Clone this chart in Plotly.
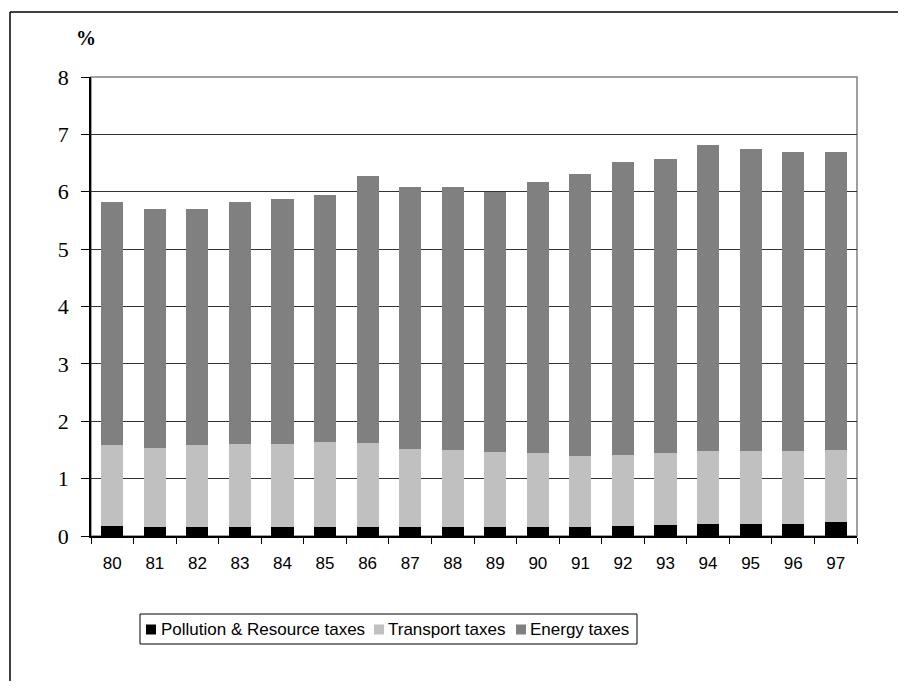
import plotly.graph_objects as go

years = ["80", "81", "82", "83", "84", "85", "86", "87", "88", "89",
         "90", "91", "92", "93", "94", "95", "96", "97"]
pollution = [0.17, 0.16, 0.16, 0.16, 0.16, 0.16, 0.16, 0.16, 0.16, 0.16,
             0.16, 0.16, 0.17, 0.19, 0.21, 0.21, 0.21, 0.24]
transport = [1.42, 1.38, 1.43, 1.45, 1.45, 1.48, 1.46, 1.36, 1.34, 1.31,
             1.29, 1.24, 1.24, 1.26, 1.27, 1.27, 1.27, 1.26]
energy = [4.23, 4.16, 4.11, 4.21, 4.26, 4.30, 4.65, 4.56, 4.58, 4.53,
          4.72, 4.91, 5.11, 5.12, 5.33, 5.26, 5.21, 5.19]
series_names = ["Pollution & Resource taxes", "Transport taxes", "Energy taxes"]
series_colors = ["#000000", "#C0C0C0", "#808080"]

fig = go.Figure()
for vals, nm, col in zip([pollution, transport, energy], series_names, series_colors):
    fig.add_trace(go.Bar(x=years, y=vals, name=nm, showlegend=False,
                         marker=dict(color=col, line=dict(width=0))))

# figure pixel geometry (page is offset by 8px body margin)
W, H = 890, 673
L, R, T, B = 83, 849, 69, 528
pw, ph = R - L, B - T


def px(x):
    return (x - L) / pw


def py(y):
    return (B - y) / ph


fig.update_layout(
    width=W, height=H,
    barmode="stack", bargap=0.48,
    paper_bgcolor="white", plot_bgcolor="white",
    margin=dict(l=L, r=W - R, t=T, b=H - B, pad=0),
    showlegend=False,
    font=dict(family="Liberation Sans, Arial", color="black"),
)

fig.update_yaxes(range=[0, 8], dtick=1, tick0=0,
                 showgrid=True, gridcolor="#333333", gridwidth=1.2,
                 showline=True, linecolor="black", linewidth=1.5,
                 ticks="outside", ticklen=8, tickcolor="black", tickwidth=1.2,
                 ticklabelstandoff=8,
                 tickfont=dict(family="Liberation Serif, Times New Roman", size=22, color="black"),
                 zeroline=False, fixedrange=True)
fig.update_xaxes(type="category", showgrid=False,
                 showline=True, linecolor="black", linewidth=1.5,
                 ticks="outside", tickson="boundaries", ticklen=6,
                 tickcolor="black", tickwidth=1.2,
                 ticklabelstandoff=11,
                 tickfont=dict(family="Liberation Sans, Arial", size=17, color="black"),
                 fixedrange=True)

# gray plot-area border (top/right)
fig.add_shape(type="rect", xref="paper", yref="paper", x0=0, x1=1, y0=0, y1=1,
              line=dict(color="#808080", width=1.5), layer="below")
# outer frame (top and left visible)
fig.add_shape(type="line", xref="paper", yref="paper",
              x0=px(2), x1=px(2), y0=py(H), y1=py(4),
              line=dict(color="black", width=1.5))
fig.add_shape(type="line", xref="paper", yref="paper",
              x0=px(2), x1=px(W), y0=py(4), y1=py(4),
              line=dict(color="black", width=1.5))

fig.add_annotation(text="<b>%</b>", xref="paper", yref="paper",
                   x=px(78), y=py(30), showarrow=False,
                   xanchor="center", yanchor="middle",
                   font=dict(family="Liberation Serif, Times New Roman", size=20, color="black"))

# legend box
fig.add_shape(type="rect", xref="paper", yref="paper",
              x0=px(132), x1=px(629), y0=py(636), y1=py(606),
              line=dict(color="black", width=1), fillcolor="white")
sq_left = [138, 366, 508]
txt_left = [152, 379, 521]
for s, t, nm, col in zip(sq_left, txt_left, series_names, series_colors):
    fig.add_shape(type="rect", xref="paper", yref="paper",
                  x0=px(s), x1=px(s + 10), y0=py(626.5), y1=py(616.5),
                  line=dict(width=0), fillcolor=col)
    fig.add_annotation(text=nm, xref="paper", yref="paper",
                       x=px(t), y=py(621.5), showarrow=False,
                       xanchor="left", yanchor="middle", borderpad=0,
                       font=dict(family="Liberation Sans, Arial", size=17, color="black"))

fig.write_html("out.html")
